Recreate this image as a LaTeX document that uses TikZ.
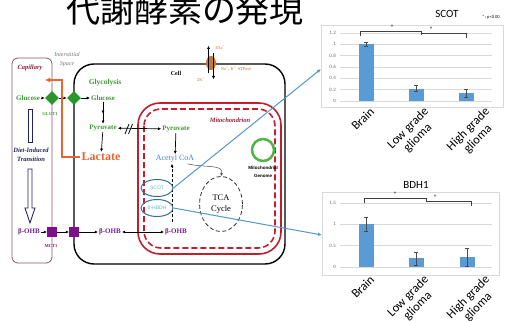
\documentclass[tikz,border=0pt]{standalone}
\usepackage{fontspec}
\setmainfont{Liberation Serif}
\newfontfamily\cjkfont{Noto Sans CJK JP}
\newfontfamily\chartfont{Carlito}
\newfontfamily\smallsans{Liberation Sans}
\usetikzlibrary{shapes.geometric,arrows.meta,calc,decorations.markings}
\definecolor{glycogreen}{RGB}{62,150,50}
\definecolor{glutgreen}{RGB}{40,150,40}
\definecolor{lactorange}{RGB}{232,100,50}
\definecolor{ohbpurple}{RGB}{120,30,140}
\definecolor{mctpurple}{RGB}{125,15,140}
\definecolor{mitored}{RGB}{195,30,45}
\definecolor{capbrown}{RGB}{140,85,95}
\definecolor{capred}{RGB}{150,30,60}
\definecolor{acetylblue}{RGB}{70,130,200}
\definecolor{enzborder}{RGB}{55,110,150}
\definecolor{enzteal}{RGB}{90,185,205}
\definecolor{atporange}{RGB}{200,120,50}
\definecolor{navyline}{RGB}{35,35,90}
\definecolor{genomegreen}{RGB}{80,180,70}
\definecolor{barblue}{RGB}{91,155,213}
\definecolor{linkblue}{RGB}{85,150,200}
\definecolor{gridgray}{RGB}{217,217,217}
\definecolor{ticktext}{RGB}{110,110,110}
\tikzset{
    % metabolite labels
    metab/.style={font=\bfseries\fontsize{7}{8}\selectfont, inner sep=1pt},
    glcmetab/.style={metab, text=glycogreen},
    ohbmetab/.style={metab, text=ohbpurple},
    tinylabel/.style={font=\fontsize{4.5}{5}\selectfont, inner sep=0.5pt},
    placelabel/.style={font=\bfseries\itshape\fontsize{6.5}{7.5}\selectfont, align=center, inner sep=1pt},
    % transporters on the membrane
    glut/.style={diamond, fill=glutgreen, minimum size=14pt, inner sep=0},
    mct/.style={rectangle, fill=mctpurple, minimum size=9.5pt, inner sep=0},
    enzyme/.style={ellipse, draw=enzborder, line width=1pt, minimum width=32pt,
        minimum height=17pt, inner sep=0, text=enzteal,
        font=\smallsans\fontsize{5}{6}\selectfont},
    flow/.style={-{Latex[length=3.2pt,width=3pt]}, line width=0.7pt},
    twoway/.style={{Latex[length=3.2pt,width=3pt]}-{Latex[length=3.2pt,width=3pt]}, line width=0.7pt},
    link/.style={-{Latex[length=4pt,width=3.5pt]}, draw=linkblue, line width=1pt},
    % chart pieces
    charttitle/.style={font=\chartfont\fontsize{11}{12}\selectfont},
    chartframe/.style={draw=gridgray, line width=0.5pt},
    gridline/.style={draw=gridgray, line width=0.4pt},
    ticklabel/.style={font=\chartfont\fontsize{5}{6}\selectfont, text=ticktext, anchor=east, inner sep=1pt},
    catlabel/.style={font=\chartfont\fontsize{12.5}{13.5}\selectfont, rotate=45,
        align=center, anchor=north east, inner sep=0},
    errbar/.style={draw=black!70, line width=0.4pt},
    sigbracket/.style={draw=black!75, line width=0.5pt},
    star/.style={font=\chartfont\fontsize{8}{9}\selectfont, text=black!75, inner sep=0}
}
\begin{document}
\begin{tikzpicture}[x=1pt, y=-1pt]
\useasboundingbox (0,0) rectangle (509,321);

% heading
\node[font=\cjkfont\fontsize{34}{40}\selectfont, anchor=base] (heading) at (185,23) {代謝酵素の発現};

% capillary, cell and mitochondrion outlines
\draw[capbrown, line width=0.8pt, rounded corners=6pt] (12,58) rectangle (52,263);
\draw[black, line width=1.4pt, rounded corners=20pt] (74,64) rectangle (285,264);
\draw[mitored, line width=1.6pt, rounded corners=22pt] (138,103) rectangle (281,254);
\draw[mitored, line width=1.6pt, dash pattern=on 6pt off 3pt, rounded corners=17pt] (144,109) rectangle (275,248);

% place names
\node[placelabel, text=capred] (capillary) at (30,68) {Capillary};
\node[font=\itshape\fontsize{6}{9}\selectfont, text=black!55, align=center] (interstitial) at (67,60) {Interstitial\\Space};
\node[font=\bfseries\fontsize{6}{7}\selectfont] (cell) at (176,73) {Cell};
\node[placelabel, text=capred] (mito) at (230,120) {Mitochondrion};
\node[placelabel, text=navyline, font=\bfseries\itshape\fontsize{6.5}{9}\selectfont] (diet) at (31,155) {Diet-Induced\\Transition};

% Na/K pump
\node[ellipse, fill=atporange, minimum width=10pt, minimum height=14pt, inner sep=0] (atpase) at (211,63) {};
\draw[flow] ([xshift=-2.5pt,yshift=-3pt]atpase.south) -- ([xshift=-2.5pt,yshift=10pt]atpase.north);
\draw[flow] ([xshift=2.5pt,yshift=3pt]atpase.north) -- ([xshift=2.5pt,yshift=-9pt]atpase.south);
\node[tinylabel, text=atporange] (na) at (220,48) {3Na\textsuperscript{+}};
\node[tinylabel, text=atporange] (k) at (201,80) {2K\textsuperscript{+}};
\node[tinylabel, text=atporange] (atplabel) at (236,69) {Na\textsuperscript{+}, K\textsuperscript{+} ATPase};

% glucose uptake and glycolysis
\node[glcmetab, font=\bfseries\fontsize{7.5}{8}\selectfont] (glycolysis) at (105,83) {Glycolysis};
\node[glcmetab] (glc1) at (28,98) {Glucose};
\node[glut] (glut1) at (52,98) {};
\node[glut] (glut2) at (74,98) {};
\node[glcmetab] (glc2) at (103,98) {Glucose};
\node[tinylabel, text=glycogreen, font=\bfseries\fontsize{4.5}{5}\selectfont] (glutname) at (50,114) {GLUT1};
\node[glcmetab] (pyr1) at (103,128) {Pyruvate};
\node[glcmetab] (pyr2) at (176,129) {Pyruvate};
\node[metab, text=lactorange, font=\bfseries\fontsize{12}{13}\selectfont] (lactate) at (101,157) {Lactate};

\draw[flow] (glc1) -- (glut1);
\draw[flow] (glut1) -- (glut2);
\draw[flow] (glut2) -- (glc2);
\draw[flow, postaction={decorate}, decoration={markings,
    mark=at position 0.55 with {\arrow{Latex[length=3.2pt,width=3pt]}}}] (glc2) -- (pyr1);
\draw[flow] (pyr1) -- (lactate);
\draw[twoway] (pyr1) -- (pyr2);
\draw[line width=0.8pt] (125,134) -- (129,124) (128.5,134) -- (132.5,124);

% lactate export
\coordinate (lacout) at (45,80);
\draw[lactorange, line width=1.5pt, -{Latex[length=5pt,width=5pt]}] (lactate.west) -- (62,157) -- (62,80) -- (lacout);

% ketone body route
\node[ohbmetab] (ohb1) at (29,232) {β-OHB};
\node[mct] (mct1) at (52,232) {};
\node[mct] (mct2) at (74,232) {};
\node[tinylabel, text=ohbpurple, font=\bfseries\fontsize{4.5}{5}\selectfont] (mctname) at (51,246) {MCT1};
\node[ohbmetab] (ohb2) at (110,232) {β-OHB};
\node[ohbmetab] (ohb3) at (176,232) {β-OHB};
\draw[flow] (ohb1) -- (mct1);
\draw[flow] (mct1) -- (mct2);
\draw[flow] (mct2) -- (ohb2);
\draw[twoway] (ohb2) -- (ohb3);

% hollow arrow in the capillary
\draw[navyline, line width=0.8pt] (28,109) rectangle (32,142);
\draw[navyline, line width=0.8pt, fill=white] (28,169) -- (32,169) -- (32,208) -- (35,208)
    -- (30,223) -- (25,208) -- (28,208) -- cycle;

% mitochondrial matrix
\node[metab, text=acetylblue, font=\fontsize{8}{9}\selectfont] (acetyl) at (175,159) {Acetyl CoA};
\draw[flow] (pyr2) -- (acetyl);
\coordinate (dashfoot) at (172,222);
\draw[flow, dash pattern=on 3pt off 2pt] (dashfoot) -- (dashfoot |- acetyl.south);
\node[enzyme] (scot) at (157,188) {SCOT};
\node[enzyme] (hbdh) at (157,208) {β-HBDH};

\node[ellipse, draw=black!80, line width=0.8pt, dash pattern=on 4pt off 2.5pt,
      minimum width=43pt, minimum height=55pt, align=center,
      font=\fontsize{8.5}{11}\selectfont] (tca) at (221,204) {TCA\\Cycle};
\draw[black!70, line width=0.5pt, -{Latex[length=3pt,width=3pt]}]
    ([xshift=-8pt]acetyl.south east) .. controls (205,168) and (224,164) .. (tca.north);

\node[circle, draw=genomegreen, line width=2.5pt, minimum size=22pt] (genome) at (263,150) {};
\node[font=\smallsans\bfseries\fontsize{4.5}{7.5}\selectfont, align=center] (genomename) at (263,172) {Mitochondrial\\Genome};

% SCOT expression chart
\node[charttitle] (scottitle) at (447,14) {SCOT};
\node[font=\chartfont\fontsize{4.5}{5}\selectfont, anchor=west, inner sep=0] (pnote) at (482,17) {*\,:\,p<0.00};
\draw[chartframe] (321,25) rectangle (503,107);
\foreach \v in {0,0.2,0.4,0.6,0.8,1,1.2} {
    \draw[gridline] (340,{101-56.7*\v}) -- (492,{101-56.7*\v});
    \node[ticklabel] at (337,{101-56.7*\v}) {\v};
}
\foreach \x/\v/\e in {366/1.00/0.03, 416/0.22/0.05, 466/0.14/0.07} {
    \fill[barblue] ({\x-7.5},101) rectangle ({\x+7.5},{101-56.7*\v});
    \draw[errbar] (\x,{101-56.7*(\v-\e)}) -- (\x,{101-56.7*(\v+\e)})
        ({\x-2},{101-56.7*(\v+\e)}) -- ({\x+2},{101-56.7*(\v+\e)})
        ({\x-2},{101-56.7*(\v-\e)}) -- ({\x+2},{101-56.7*(\v-\e)});
}
\draw[sigbracket] (360,36) -- (360,31) -- (421,31) -- (421,35);
\draw[sigbracket] (421,33) -- (466,33) -- (466,38);
\node[star] (scotstar1) at (392,28) {*};
\node[star] (scotstar2) at (431,30) {*};
\node[catlabel] (scotbrain) at (369,106) {Brain};
\node[catlabel] (scotlow) at (423,106) {Low grade\\glioma};
\node[catlabel] (scothigh) at (484,106) {High grade\\glioma};
\coordinate (scotplot) at (321,69);

% BDH1 expression chart
\node[charttitle] (bdhtitle) at (416,185) {BDH1};
\draw[chartframe] (322,192) rectangle (499,275);
\foreach \v in {0,0.5,1,1.5} {
    \draw[gridline] (340,{267-42.7*\v}) -- (492,{267-42.7*\v});
    \node[ticklabel] at (337,{267-42.7*\v}) {\v};
}
\foreach \x/\v/\e in {366/1.00/0.16, 416/0.20/0.15, 467/0.23/0.20} {
    \fill[barblue] ({\x-7.5},267) rectangle ({\x+7.5},{267-42.7*\v});
    \draw[errbar] (\x,{267-42.7*(\v-\e)}) -- (\x,{267-42.7*(\v+\e)})
        ({\x-2},{267-42.7*(\v+\e)}) -- ({\x+2},{267-42.7*(\v+\e)})
        ({\x-2},{267-42.7*(\v-\e)}) -- ({\x+2},{267-42.7*(\v-\e)});
}
\draw[sigbracket] (364,203) -- (364,198) -- (426,198) -- (426,201);
\draw[sigbracket] (426,201) -- (471,201) -- (471,206);
\node[star] (bdhstar1) at (395,195) {*};
\node[star] (bdhstar2) at (435,198) {*};
\node[catlabel] (bdhbrain) at (369,274) {Brain};
\node[catlabel] (bdhlow) at (423,274) {Low grade\\glioma};
\node[catlabel] (bdhhigh) at (484,274) {High grade\\glioma};
\coordinate (bdhplot) at (322,235);

% enzymes to their charts
\draw[link] (scot.east) -- (scotplot);
\draw[link] (hbdh.east) -- (bdhplot);

\end{tikzpicture}
\end{document}
